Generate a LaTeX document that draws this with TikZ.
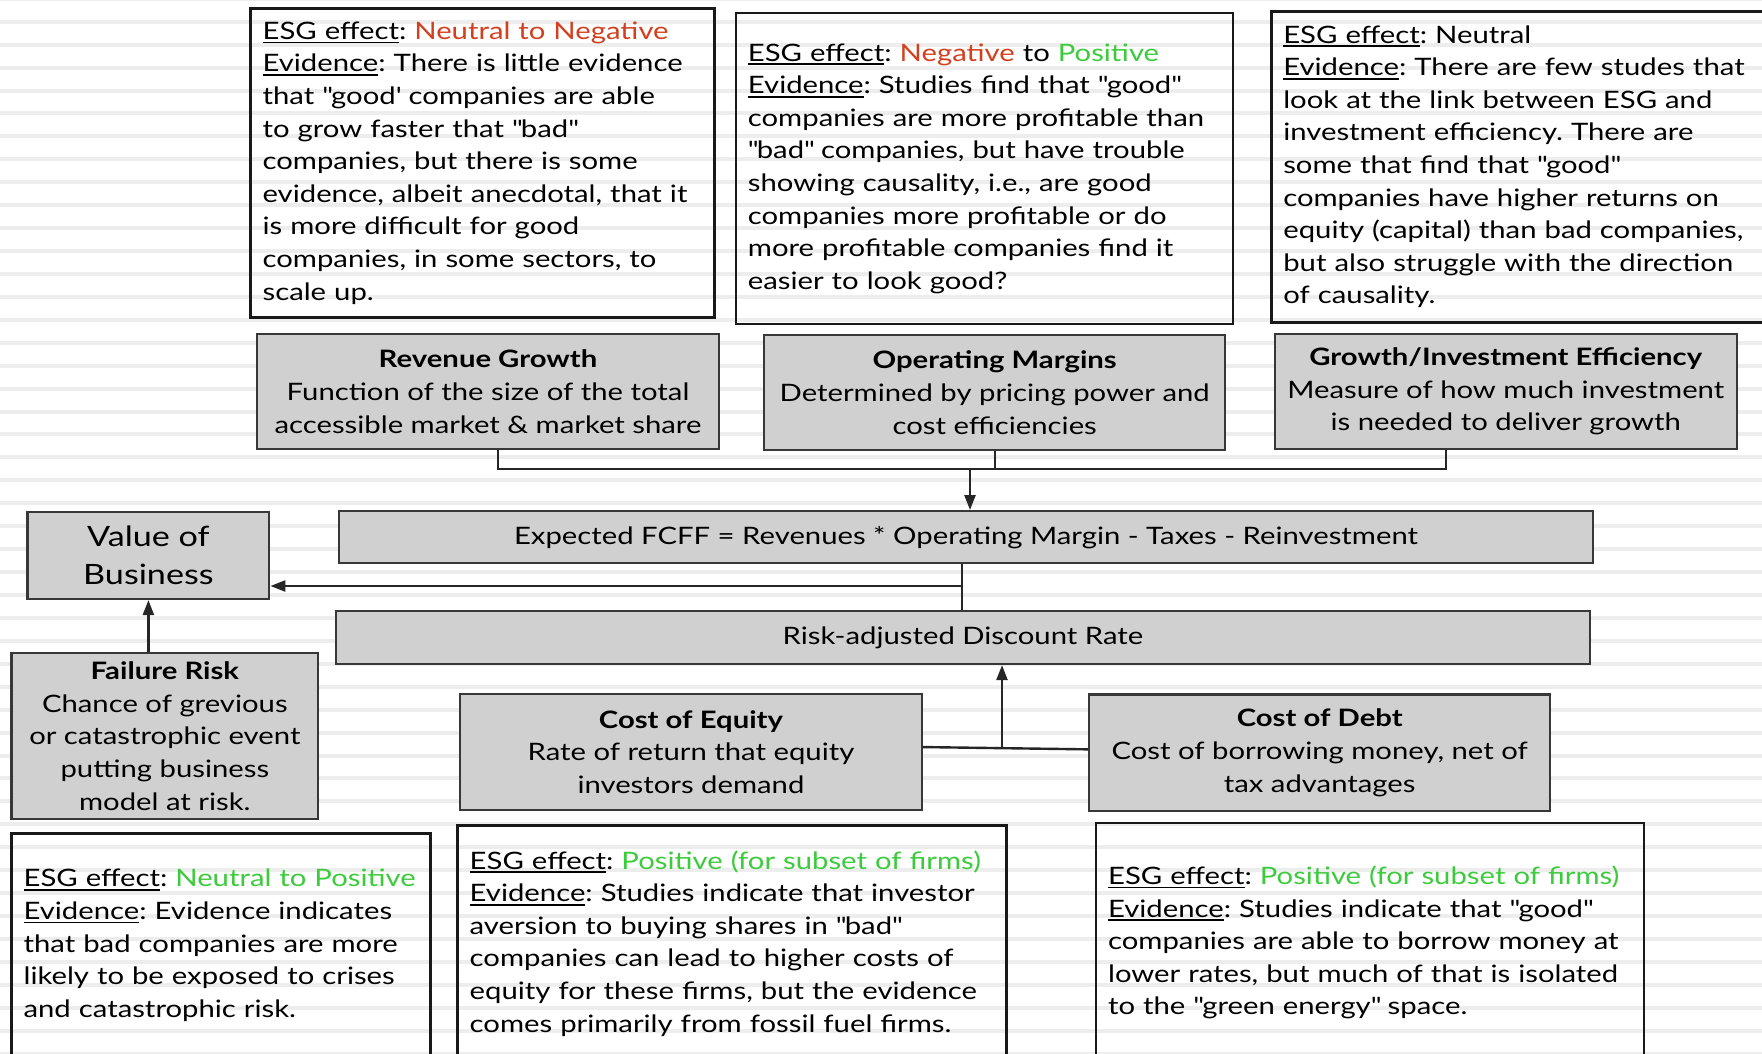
\documentclass[tikz,border=0pt]{standalone}
\usepackage{fontspec}
\setmainfont{Lato}[FakeStretch=1.22]
\usetikzlibrary{arrows.meta, positioning}

\definecolor{esgred}{HTML}{D2401F}
\definecolor{esggreen}{HTML}{3CCB3C}
\definecolor{boxgray}{HTML}{D0D0D0}
\definecolor{stripegray}{HTML}{EDEDED}

\newcommand{\undl}[1]{\leavevmode\setbox0\hbox{#1}\rlap{\rule[-4pt]{\wd0}{1.8pt}}\box0}
\newcommand{\esgfx}{\undl{ESG effect}: }
\newcommand{\evid}{\undl{Evidence}: }
\newcommand{\qq}[1]{\textquotedbl#1\textquotedbl}

\tikzset{
  esgbox/.style={draw=black!90, line width=2.6pt, anchor=north west, align=left,
    inner xsep=12pt, inner ysep=0pt, font=\fontsize{24}{32.6}\selectfont\frenchspacing},
  factorbox/.style={draw=black!78, fill=boxgray, line width=2.4pt, anchor=north west,
    align=center, inner sep=0pt, font=\fontsize{24}{32.6}\selectfont},
  link/.style={line width=2.4pt, draw=black!85},
  arrowlink/.style={link, -{Triangle[length=15pt,width=11pt]}},
  stripe/.style={line width=4pt, draw=stripegray}
}

\begin{document}
\begin{tikzpicture}[x=1pt, y=-1pt]
    \useasboundingbox[fill=white] (0,0) rectangle (1762,1053);
    \foreach \k [evaluate=\k as \sy using 22.93*\k-1.2] in {0,...,46}
        \draw[stripe] (0,\sy) -- (1762,\sy);

    % ESG boxes, top row
    \node[esgbox, text width=439.7pt, minimum height=308.7pt] (esgrev) at (249.3,7.3) {\esgfx\textcolor{esgred}{Neutral to Negative}\\
        \evid There is little evidence\\
        that \textquotedbl good\textquotesingle{} companies are able\\
        to grow faster that \qq{bad}\\
        companies, but there is some\\
        evidence, albeit anecdotal, that it\\
        is more difficult for good\\
        companies, in some sectors, to\\
        scale up.};
    \node[esgbox, text width=473pt, minimum height=311pt] (esgop) at (734.6,11.7) {\esgfx\textcolor{esgred}{Negative} to \textcolor{esggreen}{Positive}\\
        \evid Studies find that \qq{good}\\
        companies are more profitable than\\
        \qq{bad} companies, but have trouble\\
        showing causality, i.e., are good\\
        companies more profitable or do\\
        more profitable companies find it\\
        easier to look good?};
    \node[esgbox, text width=486pt, minimum height=311pt] (esggrowth) at (1270,10) {\esgfx Neutral\\
        \evid There are few studes that\\
        look at the link between ESG and\\
        investment efficiency. There are\\
        some that find that \qq{good}\\
        companies have higher returns on\\
        equity (capital) than bad companies,\\
        but also struggle with the direction\\
        of causality.};

    % value drivers
    \node[factorbox, minimum width=461.6pt, minimum height=115pt] (rev) at (256,333) {\textbf{Revenue Growth}\\Function of the size of the total\\accessible market \& market share};
    \node[factorbox, minimum width=461pt, minimum height=115pt] (op) at (763,334) {\textbf{Operating Margins}\\Determined by pricing power and\\cost efficiencies};
    \node[factorbox, minimum width=461.8pt, minimum height=115.3pt] (growth) at (1273.7,332.7) {\textbf{Growth/Investment Efficiency}\\Measure of how much investment\\is needed to deliver growth};

    \node[factorbox, minimum width=1254.5pt, minimum height=52pt] (fcff) at (337.5,510) {Expected FCFF = Revenues * Operating Margin - Taxes - Reinvestment};
    \node[factorbox, minimum width=241.6pt, minimum height=86.7pt, font=\fontsize{28}{38}\selectfont] (value) at (26.4,511) {Value of\\Business};
    \node[factorbox, minimum width=1254pt, minimum height=52.7pt] (risk) at (334.7,610) {Risk-adjusted Discount Rate};
    \node[factorbox, minimum width=306.7pt, minimum height=165.7pt] (failure) at (10.3,652) {\textbf{Failure Risk}\\Chance of grevious\\or catastrophic event\\putting business\\model at risk.};
    \node[factorbox, minimum width=461.5pt, minimum height=115.7pt] (coe) at (459,693) {\textbf{Cost of Equity}\\Rate of return that equity\\investors demand};
    \node[factorbox, minimum width=461pt, minimum height=116.7pt] (cod) at (1088,693.3) {\textbf{Cost of Debt}\\Cost of borrowing money, net of\\tax advantages};

    % ESG boxes, bottom row
    \node[esgbox, text width=395pt, minimum height=224pt] (esgfail) at (10.3,832) {\esgfx\textcolor{esggreen}{\mbox{Neutral to Positive}}\\
        \evid Evidence indicates\\
        that bad companies are more\\
        likely to be exposed to crises\\
        and catastrophic risk.};
    \node[esgbox, text width=524.5pt, minimum height=236pt] (esgcoe) at (456.4,824) {\esgfx\textcolor{esggreen}{Positive (for subset of firms)}\\
        \evid Studies indicate that investor\\
        aversion to buying shares in \qq{bad}\\
        companies can lead to higher costs of\\
        equity for these firms, but the evidence\\
        comes primarily from fossil fuel firms.};
    \node[esgbox, text width=524pt, minimum height=239pt] (esgcod) at (1094.8,821.7) {\esgfx\textcolor{esggreen}{Positive (for subset of firms)}\\
        \evid Studies indicate that \qq{good}\\
        companies are able to borrow money at\\
        lower rates, but much of that is isolated\\
        to the \qq{green energy} space.};

    % connectors
    \coordinate (bus) at (970,469);
    \coordinate (revfoot) at ([xshift=10pt]rev.south);
    \coordinate (growthfoot) at ([xshift=-60pt]growth.south);
    \draw[link] (revfoot) |- (bus) -| (growthfoot);
    \draw[link] (op.south) -- (op.south |- bus);
    \draw[arrowlink] (bus) -- (fcff.north -| bus);

    \coordinate (split) at (962,586);
    \draw[link] (fcff.south -| split) -- (risk.north -| split);
    \draw[arrowlink] (split) -- (split -| value.east);

    \draw[arrowlink] (failure.north -| value.south) -- (value.south);

    \draw[link] ([yshift=5pt]coe.east) -- ([yshift=3.5pt]cod.west);
    \coordinate (join) at (1002,746.9);
    \draw[arrowlink] (join) -- (join |- risk.south);
\end{tikzpicture}
\end{document}
